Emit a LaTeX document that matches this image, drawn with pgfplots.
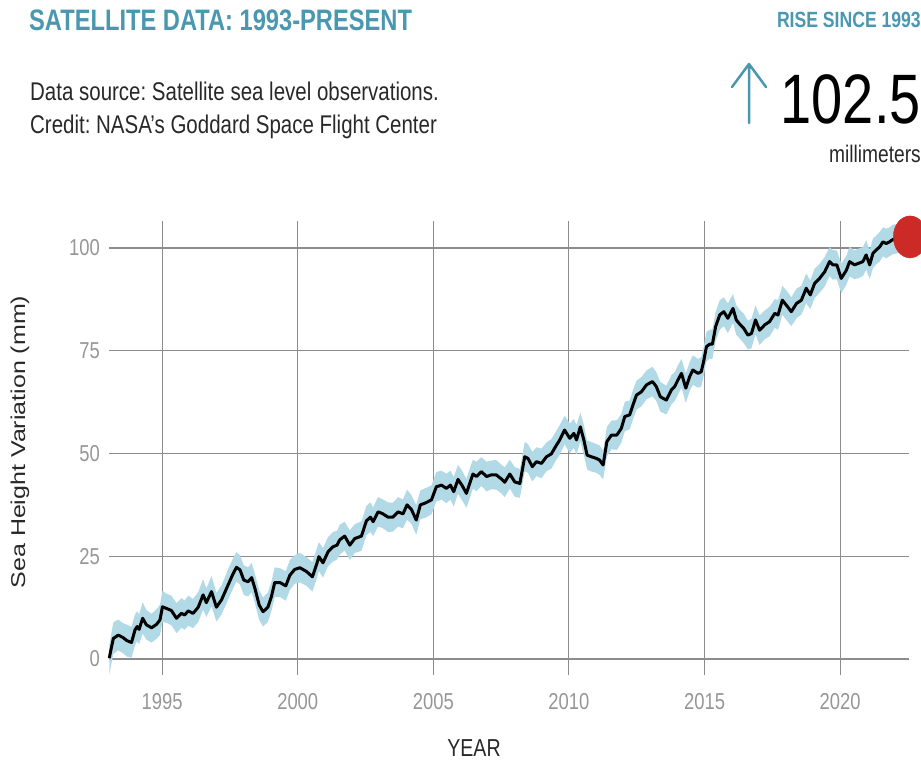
\documentclass[border=0pt]{standalone}
\usepackage{graphicx}
\usepackage{pgfplots}
\pgfplotsset{compat=1.18}
\usepackage{pgfplotstable}
\usepgfplotslibrary{fillbetween}
\usepackage{fontspec}
\setmainfont{Liberation Sans}[FakeStretch=0.8]
\newfontfamily\widesans{Liberation Sans}
\frenchspacing

\definecolor{nasateal}{RGB}{74,151,176}
\definecolor{bandblue}{RGB}{178,217,230}
\definecolor{gridgray}{RGB}{140,140,140}
\definecolor{tickgray}{RGB}{150,150,150}
\definecolor{dotred}{RGB}{204,42,38}
\definecolor{darktext}{RGB}{40,40,40}

% year, sea height (mm), lower and upper edge of the band
\pgfplotstableread{
x v lo hi
1993.05 0.2 -3.8 3.2
1993.12 2.5 -1.5 6.0
1993.2 5.0 1.2 8.9
1993.38 5.8 2.1 9.6
1993.56 5.2 1.4 8.7
1993.69 4.5 0.6 8.4
1993.87 4.0 0.3 7.8
1994.0 7.1 3.4 10.9
1994.08 7.9 4.3 11.6
1994.15 7.2 3.6 10.8
1994.28 9.9 6.2 13.8
1994.42 8.3 4.7 11.9
1994.61 7.6 4.0 11.0
1994.79 8.4 4.9 12.1
1994.92 9.5 5.8 13.2
1995.01 12.7 9.0 16.6
1995.16 12.3 8.8 15.9
1995.34 11.8 8.2 15.4
1995.53 9.9 6.3 13.6
1995.71 11.1 7.6 14.8
1995.83 10.7 7.1 14.2
1995.96 11.7 8.1 15.4
1996.14 11.1 7.5 14.6
1996.33 12.6 9.0 16.3
1996.51 15.6 12.0 19.4
1996.63 13.7 10.2 17.2
1996.82 16.4 12.8 20.2
1997.0 12.6 9.1 16.1
1997.19 14.4 10.8 17.9
1997.43 18.0 14.4 21.8
1997.62 20.8 17.2 24.6
1997.74 22.3 18.8 26.0
1997.87 21.7 18.1 25.2
1998.01 19.2 15.6 22.8
1998.17 18.8 15.2 22.3
1998.3 19.8 16.3 23.4
1998.42 17.2 13.6 20.7
1998.58 13.1 9.5 16.7
1998.72 11.5 7.9 15.0
1998.9 12.6 9.0 16.2
1999.03 15.2 11.7 18.8
1999.15 18.6 15.0 22.3
1999.34 18.6 15.1 22.1
1999.56 17.8 14.2 21.4
1999.71 20.4 16.8 24.1
1999.89 21.8 18.3 25.3
2000.08 22.2 18.6 25.8
2000.32 21.3 17.8 24.8
2000.54 20.0 16.4 23.6
2000.69 22.9 19.3 26.6
2000.78 24.9 21.4 28.4
2000.93 23.4 19.8 27.0
2001.12 26.1 22.6 29.7
2001.3 27.3 23.7 30.9
2001.45 27.7 24.2 31.2
2001.55 29.0 25.4 32.7
2001.73 29.9 26.4 33.4
2001.92 27.7 24.1 31.3
2002.1 29.3 25.8 32.8
2002.35 29.9 26.3 33.5
2002.53 33.6 30.1 37.2
2002.68 34.5 30.9 38.1
2002.78 33.4 29.9 36.9
2002.96 35.8 32.2 39.4
2003.12 35.4 31.9 38.9
2003.33 34.5 30.9 38.1
2003.51 34.5 31.0 38.0
2003.7 35.8 32.2 39.4
2003.88 35.3 31.8 38.8
2004.03 37.5 33.9 41.2
2004.19 36.4 32.9 39.9
2004.37 33.8 30.2 37.4
2004.52 37.5 34.0 41.0
2004.72 38.0 34.4 41.6
2004.93 38.7 35.2 42.2
2005.11 41.9 38.3 45.5
2005.3 42.3 38.8 45.8
2005.48 41.5 37.9 45.1
2005.63 42.3 38.8 45.8
2005.75 40.7 37.1 44.3
2005.91 43.7 40.2 47.2
2006.07 42.1 38.5 45.7
2006.22 40.3 36.8 43.8
2006.34 42.7 39.1 46.3
2006.46 45.0 41.5 48.5
2006.59 44.4 40.8 48.0
2006.77 45.6 42.1 49.1
2006.96 44.4 40.8 48.0
2007.14 44.8 41.3 48.3
2007.32 44.8 41.2 48.4
2007.51 43.8 40.3 47.3
2007.63 43.0 39.4 46.6
2007.82 45.0 41.5 48.5
2008.0 43.1 39.5 46.7
2008.19 42.7 39.2 46.2
2008.37 49.2 45.6 52.8
2008.49 48.8 45.3 52.3
2008.65 46.8 43.2 50.4
2008.8 48.0 44.5 51.5
2008.99 47.6 44.0 51.2
2009.17 49.2 45.7 52.7
2009.35 49.9 46.3 53.5
2009.51 51.7 48.2 55.2
2009.66 53.3 49.7 56.9
2009.84 55.7 52.2 59.2
2010.03 53.7 50.1 57.3
2010.18 54.9 51.4 58.4
2010.28 53.3 49.7 56.9
2010.42 56.5 53.0 60.0
2010.55 53.3 49.7 56.9
2010.67 49.6 46.1 53.1
2010.83 49.2 45.6 52.8
2011.01 48.8 45.3 52.3
2011.13 48.4 44.8 52.0
2011.26 47.2 43.7 50.7
2011.4 52.9 49.3 56.5
2011.57 54.5 51.0 58.0
2011.77 54.5 50.9 58.1
2011.93 56.1 52.6 59.6
2012.06 59.0 55.4 62.6
2012.24 59.4 55.9 62.9
2012.36 61.8 58.2 65.4
2012.49 64.2 60.7 67.7
2012.67 65.0 61.4 68.6
2012.86 66.7 63.2 70.2
2013.08 67.5 63.9 71.1
2013.22 66.3 62.8 69.8
2013.37 63.8 60.2 67.4
2013.59 63.0 59.5 66.5
2013.78 65.5 61.9 69.1
2013.9 66.3 62.8 69.8
2014.02 67.9 64.3 71.5
2014.15 69.5 66.0 73.0
2014.31 65.9 62.3 69.5
2014.45 68.7 65.2 72.2
2014.57 70.3 66.7 73.9
2014.76 69.5 66.0 73.0
2014.88 69.9 66.3 73.5
2014.97 72.5 69.0 76.0
2015.07 76.0 72.4 79.6
2015.19 76.6 73.1 80.1
2015.29 76.6 73.0 80.2
2015.41 80.9 77.4 84.4
2015.56 83.7 80.1 87.3
2015.71 84.5 81.0 88.0
2015.86 82.9 79.3 86.5
2016.05 85.3 81.8 88.8
2016.17 82.5 78.9 86.1
2016.32 81.3 77.8 84.8
2016.44 80.5 76.9 84.1
2016.6 78.8 75.3 82.3
2016.73 79.2 75.6 82.8
2016.88 82.5 79.0 86.0
2017.03 80.0 76.4 83.6
2017.22 81.3 77.8 84.8
2017.4 82.1 78.5 85.7
2017.59 84.1 80.6 87.6
2017.71 83.7 80.1 87.3
2017.87 87.3 83.8 90.8
2018.04 85.9 82.3 89.5
2018.2 84.5 81.0 88.0
2018.39 86.5 82.9 90.1
2018.57 87.3 83.8 90.8
2018.75 90.2 86.6 93.8
2018.9 88.6 85.1 92.1
2019.06 91.4 87.8 95.0
2019.24 92.6 89.1 96.1
2019.43 94.2 90.6 97.8
2019.61 96.7 93.2 100.2
2019.73 95.9 92.3 99.5
2019.88 95.9 92.4 99.4
2020.04 92.6 89.0 96.2
2020.23 94.6 91.1 98.1
2020.35 96.7 93.1 100.3
2020.53 95.9 92.4 99.4
2020.69 96.3 92.7 99.9
2020.84 96.7 93.2 100.2
2020.96 98.3 94.7 101.9
2021.09 95.9 92.4 99.4
2021.21 98.7 95.1 102.3
2021.33 99.5 96.0 103.0
2021.46 100.3 96.7 103.9
2021.58 101.5 98.0 105.0
2021.7 101.1 97.5 104.7
2021.82 101.5 98.0 105.0
2021.95 102.1 98.5 105.7
2022.2 102.3 98.8 105.8
2022.5 102.5 99.0 106.0
}\sealevel

\begin{document}
\begin{tikzpicture}
% 1pt = 1px of the reference, origin at the top left corner
\begin{axis}[
    at={(109pt,-675pt)}, anchor=south west,
    scale only axis, width=800pt, height=454pt,
    xmin=1993.04, xmax=2022.54,
    ymin=-3.9, ymax=106.57,
    xtick={1995,2000,2005,2010,2015,2020},
    ytick={0,25,50,75,100},
    scaled x ticks=false,
    /pgf/number format/1000 sep={},
    /pgf/number format/assume math mode=true,
    grid=major,
    grid style={draw=gridgray, line width=1.1pt},
    axis line style={draw=none},
    major tick length=0pt,
    tick style={draw=none},
    tick label style={font=\fontsize{23}{23}\selectfont, text=tickgray},
    xticklabel style={anchor=north, inner sep=0pt, yshift=-18pt},
    yticklabel style={anchor=east, inner sep=0pt, xshift=-9pt},
    clip=false,
]
\addplot[name path=hi, draw=none] table[x=x, y=hi] {\sealevel};
\addplot[name path=lo, draw=none] table[x=x, y=lo] {\sealevel};
\addplot[fill=bandblue, draw=none] fill between[of=hi and lo];
\addplot[black, line width=3pt, line join=round] table[x=x, y=v] {\sealevel};
\addplot[only marks, mark=*, mark size=21pt, color=dotred,
    mark options={xscale=0.8}] coordinates {(2022.58,102.7)};
\end{axis}

% header
\node[anchor=base west, inner sep=0pt, text=nasateal,
    font=\fontsize{29.6}{29.6}\selectfont\bfseries]
    at (29pt,-30pt) {SATELLITE DATA: 1993-PRESENT};
\node[anchor=base west, inner sep=0pt, text=darktext,
    font=\fontsize{25.6}{25.6}\selectfont]
    at (30pt,-100pt) {Data source: Satellite sea level observations.};
\node[anchor=base west, inner sep=0pt, text=darktext,
    font=\fontsize{25.6}{25.6}\selectfont]
    at (30pt,-133pt) {Credit: NASA's Goddard Space Flight Center};

\node[anchor=base east, inner sep=0pt, text=nasateal,
    font=\fontsize{22}{22}\selectfont\bfseries]
    at (921pt,-27pt) {RISE SINCE 1993};
\node[anchor=base east, inner sep=0pt, text=black,
    font=\fontsize{70}{70}\selectfont]
    at (921pt,-123pt) {102.5};
\node[anchor=base east, inner sep=0pt, text=darktext,
    font=\fontsize{24}{24}\selectfont]
    at (921pt,-162pt) {millimeters};
\draw[nasateal, line width=2.5pt, line cap=round, line join=round]
    (749pt,-123pt) -- (749pt,-64pt)
    (732pt,-87pt) -- (749pt,-64pt) -- (766pt,-87pt);

% axis titles
\node[anchor=base, inner sep=0pt, text depth=0pt, text=darktext,
    font=\fontsize{24.5}{24.5}\selectfont]
    at (474pt,-756pt) {YEAR};
\node[rotate=90, anchor=center, inner sep=0pt, text=darktext]
    at (20pt,-442pt)
    {\widesans\fontsize{25}{25}\selectfont\scalebox{1}[0.8]{Sea Height Variation (mm)}};

\pgfresetboundingbox
\useasboundingbox (0,0) rectangle (921pt,-761pt);
\end{tikzpicture}
\end{document}
